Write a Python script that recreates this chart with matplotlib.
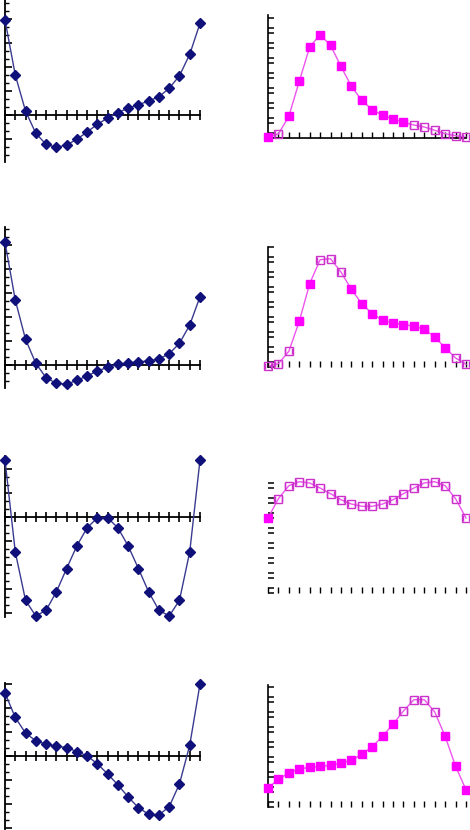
import numpy as np
import matplotlib
matplotlib.use("Agg")
import matplotlib.pyplot as plt
from matplotlib.ticker import MultipleLocator, FixedLocator

# ---- data (index 0..19) ----
idx = list(range(20))

left1 = [95, 40, 4, -18.3, -29.3, -32.3, -30, -24.3, -17, -9.3, -3, 2.3, 7, 10.3, 14, 18.3, 26.7, 39.3, 60.7, 91.7]
left2 = [122.7, 65, 25.7, 1.7, -12.7, -18.3, -19.3, -15.3, -11, -6, -2.3, 0.7, 2, 3.3, 4, 6, 11.3, 21.7, 40, 68.3]
left3 = [56.7, -35, -83.3, -99, -93.3, -75, -51.7, -29, -11, -1, -1, -11, -29, -51.7, -75, -93.3, -99, -83.3, -35, 56.7]
left4 = [62.7, 38.3, 22.7, 15, 11.7, 9.7, 8.3, 4.3, 0, -8, -18, -29, -41, -51.7, -58.3, -59, -50.7, -28, 10.7, 71.7]

right1 = [1, 4, 21.7, 56.7, 91, 103.3, 92.7, 71.7, 51.7, 37.7, 28.3, 22.7, 19, 15.7, 13, 11, 7.7, 4.3, 2.3, 0.7]
right1_filled = [1, 0, 1, 1, 1, 1, 1, 1, 1, 1, 1, 1, 1, 1, 0, 0, 0, 0, 0, 0]
right2 = [0.7, 3.3, 15.7, 45.7, 83.3, 107.3, 108.3, 95, 77.7, 63.3, 53.3, 46.7, 44, 42.3, 41, 37.7, 30, 19.3, 9, 2.7]
right2_filled = [0, 0, 0, 1, 1, 0, 0, 0, 1, 1, 1, 1, 1, 1, 1, 1, 1, 1, 0, 0]
right3 = [75, 94.3, 107.3, 111.3, 110, 105, 99.3, 93.3, 89, 86.7, 86.7, 89, 93.3, 99.3, 105, 110, 111.3, 107.3, 94.3, 75]
right3_filled = [1] + [0] * 19
right4 = [19, 27.7, 34.3, 38, 39.7, 40.7, 41.7, 44, 46.7, 52.7, 60.3, 70.7, 83, 96, 107.3, 107.3, 95, 70.7, 40.7, 17.3]
right4_filled = [1] * 13 + [0] * 4 + [1] * 3

left_series = [left1, left2, left3, left4]
right_series = [right1, right2, right3, right4]
right_filled = [right1_filled, right2_filled, right3_filled, right4_filled]

# ---- layout (pixel boxes: top, bottom, ylim) ----
W, H = 470, 830
left_boxes = [(0, 162, (-47, 115)), (227, 388, (-23, 138)), (456, 617, (-100, 60.7)), (683, 829, (-73, 72.7))]
right_boxes = [(15, 138, (0, 123)), (247, 367, (0, 120)), (475, 593, (0, 118)), (685, 807, (0, 122))]
right_spines = [(True, True), (True, False), (False, False), (True, False)]  # (left, bottom)

fig = plt.figure(figsize=(W / 100, H / 100), dpi=100)

NAVY = "#10107a"
LINE_NAVY = "#3a3a90"
MAG = "#ff00ff"
LINE_MAG = "#ee55ee"
HOLLOW = "#cc33cc"

def px_axes(x0, x1, top, bottom):
    return fig.add_axes([x0 / W, 1 - bottom / H, (x1 - x0) / W, (bottom - top) / H])

for s, (top, bot, yl) in zip(left_series, left_boxes):
    ax = px_axes(5, 200, top, bot)
    ax.plot(idx, s, color=LINE_NAVY, lw=1.0, marker="D", ms=5.0,
            mfc=NAVY, mec=NAVY, clip_on=False, zorder=3)
    ax.set_xlim(0, 19)
    ax.set_ylim(*yl)
    ax.spines["left"].set_position(("data", 0))
    ax.spines["bottom"].set_position(("data", 0))
    ax.spines["top"].set_visible(False)
    ax.spines["right"].set_visible(False)
    for sp in ("left", "bottom"):
        ax.spines[sp].set_linewidth(1.3)
        ax.spines[sp].set_color("black")
    ax.xaxis.set_major_locator(MultipleLocator(1))
    ax.yaxis.set_major_locator(MultipleLocator(24 * (yl[1] - yl[0]) / (bot - top)))
    ax.yaxis.set_minor_locator(MultipleLocator(8 * (yl[1] - yl[0]) / (bot - top)))
    ax.tick_params(axis="x", direction="inout", length=7, width=1.2, labelbottom=False)
    ax.tick_params(axis="y", which="major", direction="in", length=5, width=1.2, labelleft=False)
    ax.tick_params(axis="y", which="minor", direction="in", length=3, width=1.0)
    ax.patch.set_alpha(0)

for s, f, (top, bot, yl), (spl, spb) in zip(right_series, right_filled, right_boxes, right_spines):
    ax = px_axes(268, 466, top, bot)
    ax.plot(idx, s, color=LINE_MAG, lw=1.0, zorder=2, clip_on=False)
    xs = np.array(idx)
    ys = np.array(s)
    fm = np.array(f, dtype=bool)
    ax.errorbar(xs[fm], ys[fm], xerr=0.33, fmt="s", ms=5.2, mfc=MAG, mec=MAG,
                ecolor=MAG, elinewidth=0, capsize=2.0, capthick=0.9, clip_on=False, zorder=3)
    ax.errorbar(xs[~fm], ys[~fm], xerr=0.33, fmt="s", ms=5.2, mfc="none", mec=HOLLOW, mew=1.0,
                ecolor=HOLLOW, elinewidth=0, capsize=2.0, capthick=0.9, clip_on=False, zorder=3)
    ax.set_xlim(0, 19)
    ax.set_ylim(*yl)
    ax.spines["top"].set_visible(False)
    ax.spines["right"].set_visible(False)
    ax.spines["left"].set_visible(spl)
    ax.spines["bottom"].set_visible(spb)
    for sp in ("left", "bottom"):
        ax.spines[sp].set_linewidth(1.2)
    ax.xaxis.set_major_locator(MultipleLocator(1))
    scale = (yl[1] - yl[0]) / (bot - top)
    ax.yaxis.set_major_locator(MultipleLocator(15 * scale))
    ax.yaxis.set_minor_locator(FixedLocator(np.arange(5 * scale, yl[1], 15 * scale)))
    ax.tick_params(axis="x", direction="in", length=4, width=1.0, labelbottom=False)
    ax.tick_params(axis="y", which="major", direction="in", length=4, width=1.1, labelleft=False)
    ax.tick_params(axis="y", which="minor", direction="in", length=4, width=1.1)
    ax.patch.set_alpha(0)

fig.savefig("out.png", dpi=100)
